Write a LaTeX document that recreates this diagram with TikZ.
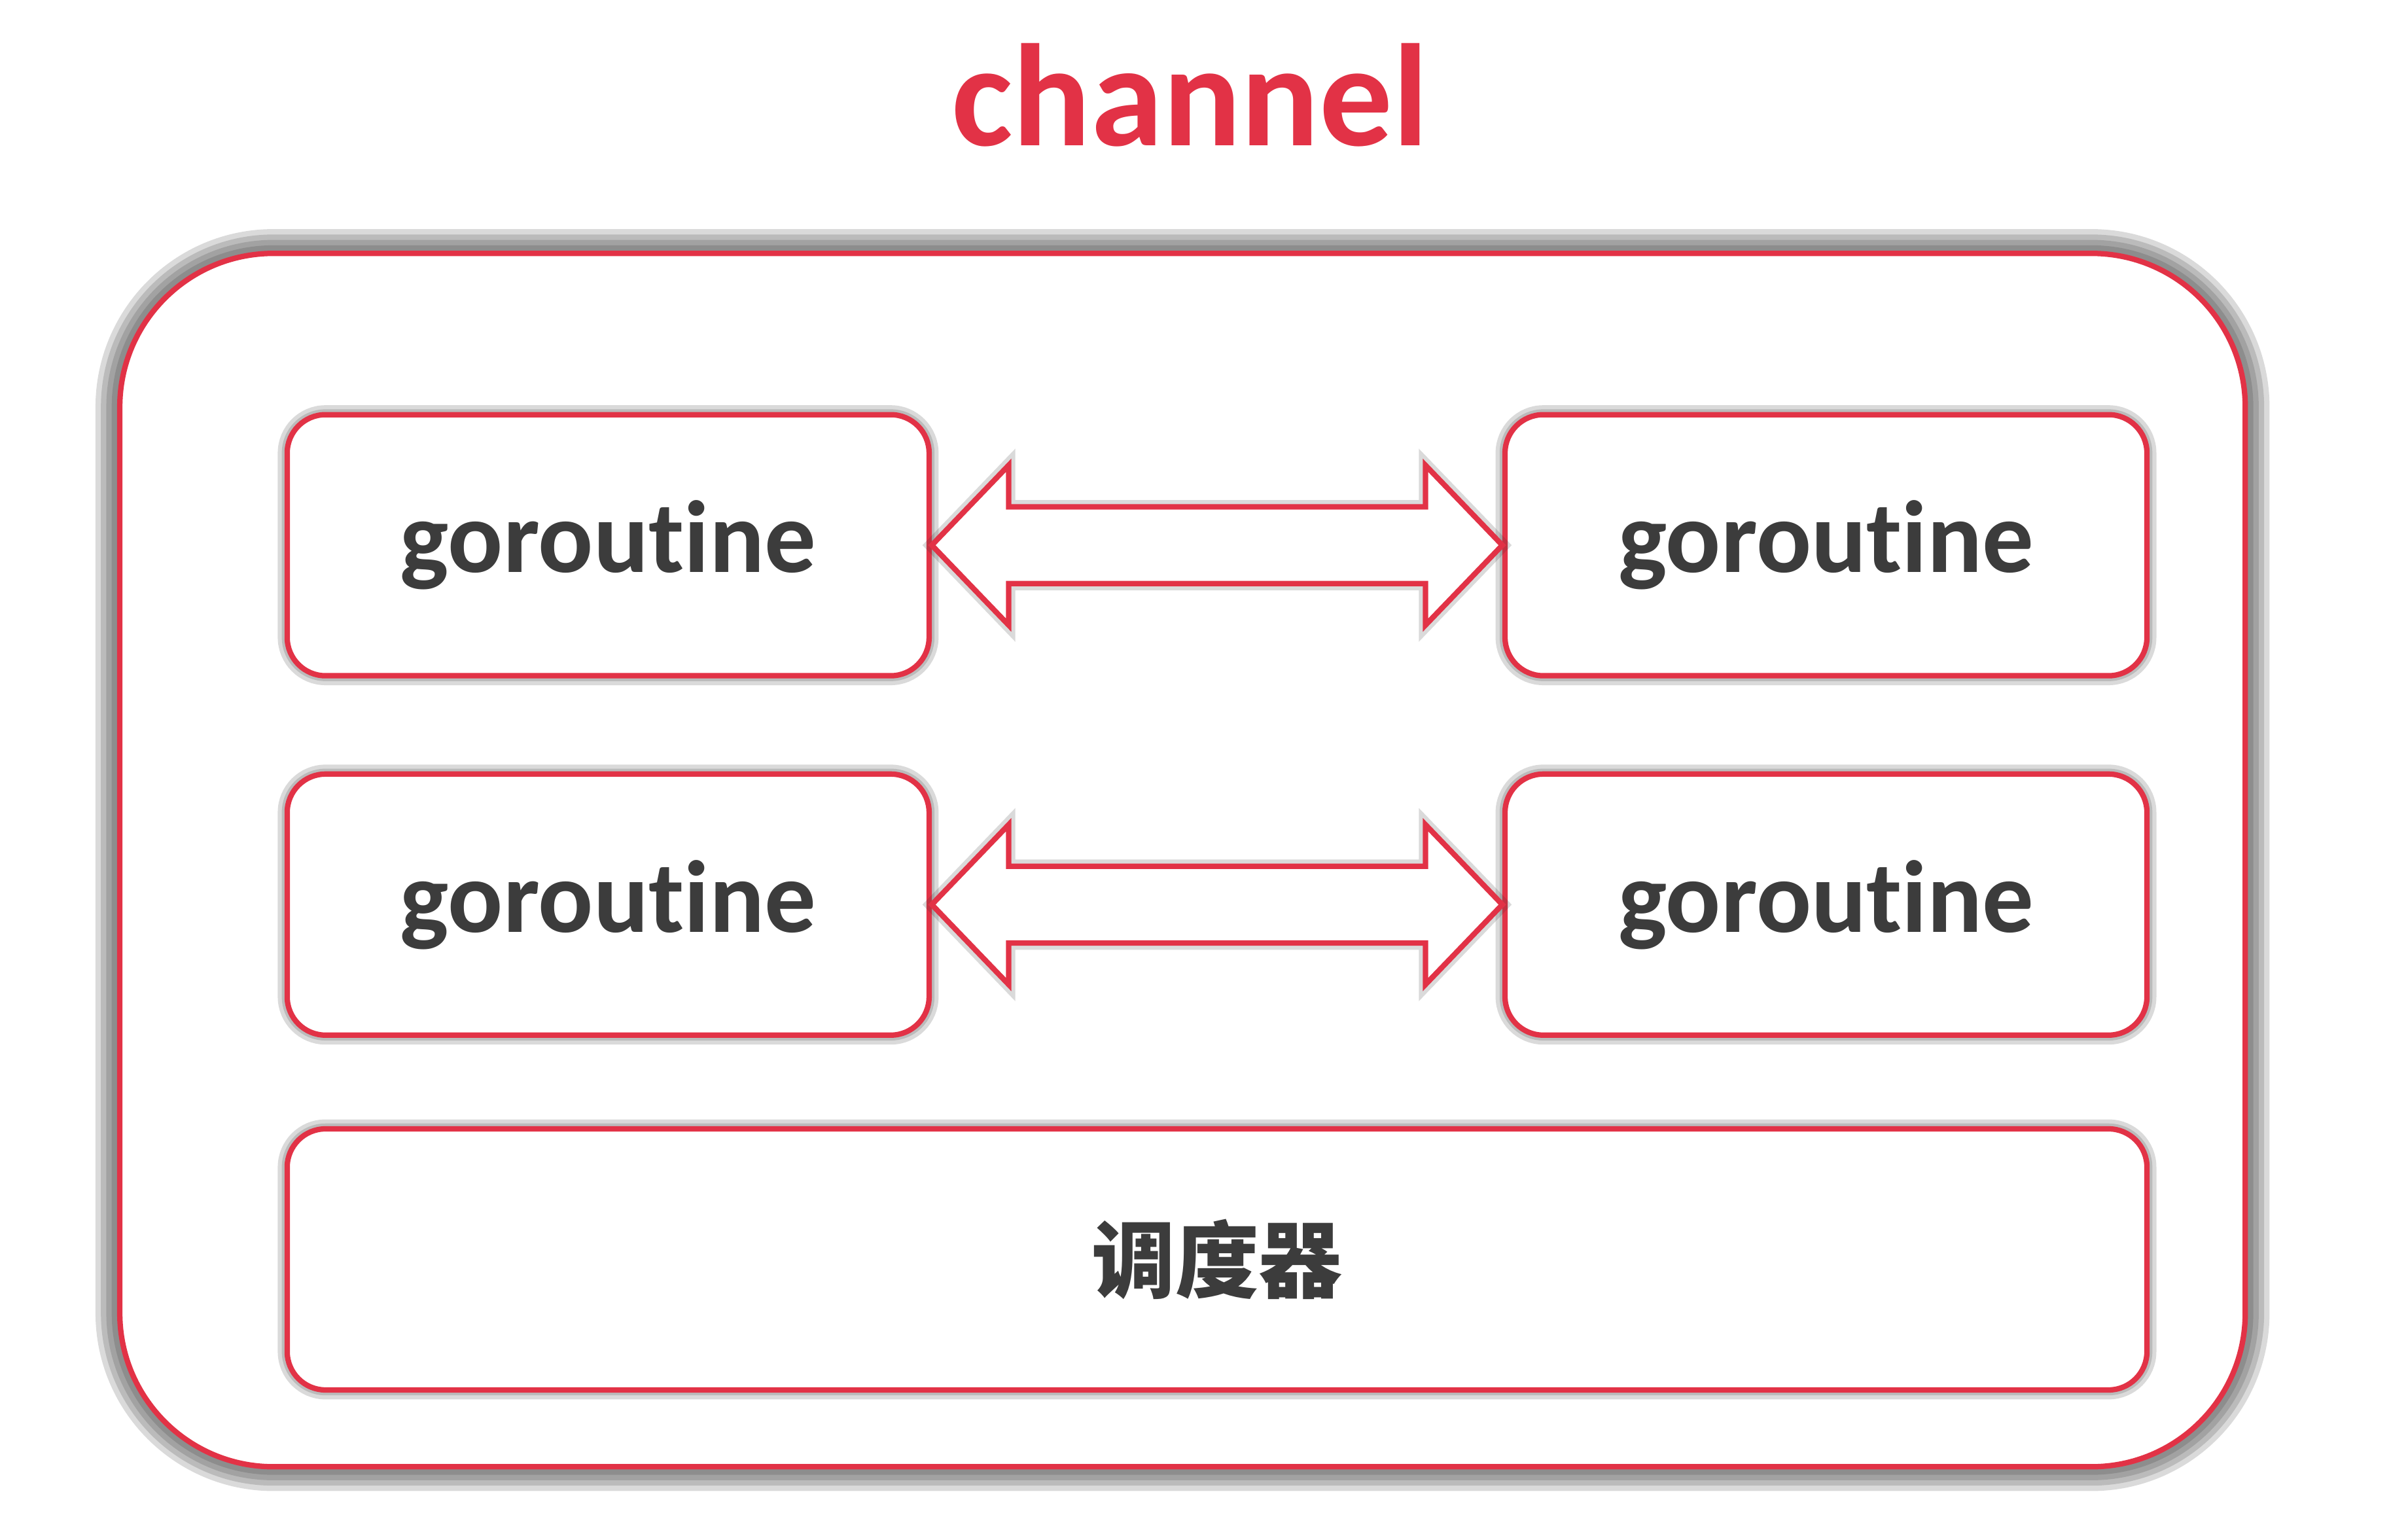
\documentclass[tikz,border=0pt]{standalone}
\usepackage{fontspec}
\setmainfont{Carlito}[Ligatures={NoCommon}]
\newfontfamily\cjk{Noto Sans CJK SC}
\usetikzlibrary{positioning,calc}
\definecolor{chanred}{RGB}{226,50,70}
\definecolor{textgray}{RGB}{60,60,60}

\begin{document}
\begin{tikzpicture}[
    softshadow/.style={preaction={draw=black!80, opacity=0.18, line width=#1}},
    gobox/.style={draw=chanred, line width=1pt, fill=white, rounded corners=0.25cm,
        minimum width=4.18cm, minimum height=1.70cm, text=textgray,
        softshadow=3.5pt, softshadow=2pt,
        font=\bfseries\fontsize{19}{22}\selectfont}]
    \useasboundingbox (0,0) rectangle (15.68,9.85);
    \fill[white] (0,0) rectangle (15.68,9.85);

    % Title
    \node[text=chanred, font=\bfseries\fontsize{27}{30}\selectfont, anchor=base] (title) at (7.75,8.90) {channel};

    % Outer box
    \node[draw=chanred, line width=1pt, fill=white, rounded corners=1.0cm,
        minimum width=13.84cm, minimum height=7.90cm,
        softshadow=9pt, softshadow=7pt, softshadow=5pt, softshadow=3pt] (chan) at (7.70,4.25) {};

    % Goroutines
    \node[gobox] (g1) at (3.96,6.30) {goroutine};
    \node[gobox] (g2) at (11.89,6.30) {goroutine};
    \node[gobox] (g3) at (3.96,3.96) {goroutine};
    \node[gobox] (g4) at (11.89,3.96) {goroutine};

    % Scheduler
    \node[gobox, minimum width=12.11cm] (sched) at (7.925,1.65) {\cjk\fontsize{15.5}{18}\selectfont 调度器};

    % Double arrows between goroutines
    \foreach \a/\b in {g1/g2, g3/g4}
        \draw[draw=chanred, line width=1pt, fill=white, softshadow=2.5pt]
            (\a.east) -- ++(0.5,0.52) -- ++(0,-0.27) -- ($(\b.west)+(-0.5,0.25)$) -- ++(0,0.27)
            -- (\b.west) -- ++(-0.5,-0.52) -- ++(0,0.27) -- ($(\a.east)+(0.5,-0.25)$) -- ++(0,-0.27) -- cycle;
\end{tikzpicture}
\end{document}
